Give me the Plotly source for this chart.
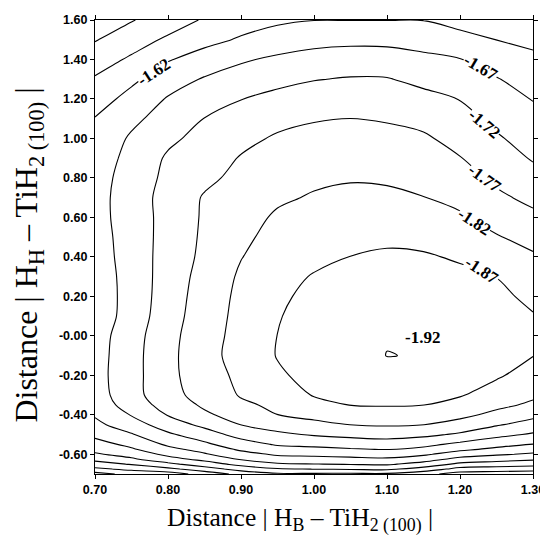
import plotly.graph_objects as go

# Grid
x_dist = [0.70, 0.75, 0.80, 0.85, 0.90, 0.95, 1.00, 1.05, 1.10, 1.15, 1.20, 1.25, 1.30]
y_dist = [-0.70, -0.675, -0.65, -0.625, -0.60, -0.575, -0.55, -0.50, -0.45, -0.40, -0.35,
          -0.30, -0.20, -0.10, 0.00, 0.10, 0.20, 0.30, 0.40, 0.50, 0.60, 0.70, 0.80, 0.90,
          1.00, 1.10, 1.20, 1.30, 1.40, 1.50, 1.60]

z_energy = [
    [-1.350, -1.387, -1.395, -1.440, -1.485, -1.5125, -1.512, -1.511, -1.511, -1.486, -1.449, -1.4425, -1.436],
    [-1.410, -1.431, -1.4575, -1.496, -1.540, -1.564, -1.571, -1.575, -1.580, -1.550, -1.502, -1.497, -1.492],
    [-1.449, -1.474, -1.508, -1.546, -1.585, -1.6135, -1.619, -1.623, -1.627, -1.6015, -1.559, -1.546, -1.5375],
    [-1.483, -1.512, -1.551, -1.584, -1.624, -1.648, -1.652, -1.6575, -1.662, -1.6427, -1.604, -1.590, -1.5779],
    [-1.514, -1.539, -1.5825, -1.6145, -1.652, -1.677, -1.682, -1.688, -1.693, -1.678, -1.645, -1.6267, -1.6129],
    [-1.534, -1.564, -1.607, -1.638, -1.678, -1.702, -1.708, -1.716, -1.722, -1.707, -1.6806, -1.6593, -1.6417],
    [-1.551, -1.582, -1.628, -1.660, -1.699, -1.725, -1.732, -1.740, -1.746, -1.734, -1.7078, -1.6865, -1.669],
    [-1.582, -1.616, -1.662, -1.698, -1.7375, -1.7606, -1.775, -1.784, -1.7895, -1.7815, -1.7628, -1.734, -1.714],
    [-1.608, -1.647, -1.695, -1.732, -1.771, -1.7907, -1.8074, -1.8205, -1.8247, -1.8205, -1.8027, -1.775, -1.7504],
    [-1.625, -1.673, -1.723, -1.762, -1.791, -1.8197, -1.834, -1.8457, -1.8503, -1.845, -1.8323, -1.808, -1.783],
    [-1.640, -1.693, -1.740, -1.778, -1.811, -1.830, -1.857, -1.871, -1.873, -1.8705, -1.8548, -1.8312, -1.812],
    [-1.648, -1.701, -1.755, -1.787, -1.824, -1.845, -1.8727, -1.880, -1.886, -1.883, -1.8735, -1.8487, -1.828],
    [-1.652, -1.702, -1.757, -1.798, -1.831, -1.864, -1.883, -1.895, -1.908, -1.9036, -1.892, -1.876, -1.8506],
    [-1.650, -1.702, -1.757, -1.802, -1.8396, -1.872, -1.889, -1.9047, -1.9206, -1.9185, -1.904, -1.888, -1.871],
    [-1.648, -1.699, -1.755, -1.799, -1.837, -1.8705, -1.891, -1.9088, -1.9179, -1.9149, -1.906, -1.893, -1.876],
    [-1.640, -1.691, -1.749, -1.7956, -1.834, -1.867, -1.889, -1.9076, -1.9112, -1.9085, -1.900, -1.8885, -1.8727],
    [-1.640, -1.689, -1.745, -1.7926, -1.831, -1.861, -1.8828, -1.901, -1.9018, -1.8994, -1.8912, -1.8804, -1.8598],
    [-1.641, -1.690, -1.742, -1.788, -1.8266, -1.857, -1.8726, -1.889, -1.8903, -1.888, -1.8798, -1.8694, -1.8428],
    [-1.645, -1.692, -1.740, -1.781, -1.8185, -1.843, -1.8605, -1.8705, -1.8767, -1.8746, -1.865, -1.8465, -1.8259],
    [-1.648, -1.693, -1.738, -1.778, -1.809, -1.837, -1.8485, -1.8575, -1.8613, -1.8574, -1.8455, -1.8235, -1.8043],
    [-1.652, -1.694, -1.737, -1.776, -1.800, -1.827, -1.8365, -1.844, -1.8454, -1.8392, -1.826, -1.8014, -1.7806],
    [-1.652, -1.695, -1.738, -1.774, -1.791, -1.8123, -1.8246, -1.8305, -1.8296, -1.821, -1.8078, -1.7796, -1.758],
    [-1.648, -1.693, -1.731, -1.760, -1.782, -1.800, -1.811, -1.8165, -1.8138, -1.806, -1.7898, -1.7602, -1.7363],
    [-1.640, -1.687, -1.726, -1.747, -1.773, -1.788, -1.797, -1.801, -1.7984, -1.7913, -1.7719, -1.7429, -1.716],
    [-1.632, -1.677, -1.711, -1.734, -1.758, -1.7756, -1.7826, -1.786, -1.783, -1.7765, -1.7543, -1.7256, -1.7002],
    [-1.622, -1.658, -1.6926, -1.721, -1.738, -1.757, -1.767, -1.7702, -1.7664, -1.7568, -1.7367, -1.7081, -1.6843],
    [-1.598, -1.636, -1.674, -1.698, -1.719, -1.733, -1.743, -1.747, -1.7444, -1.7332, -1.7187, -1.6904, -1.668],
    [-1.575, -1.610, -1.647, -1.6745, -1.692, -1.707, -1.718, -1.7236, -1.7226, -1.708, -1.6952, -1.6729, -1.6486],
    [-1.547, -1.5775, -1.6165, -1.640, -1.664, -1.679, -1.688, -1.693, -1.692, -1.681, -1.6718, -1.647, -1.6293],
    [-1.517, -1.5475, -1.578, -1.606, -1.625, -1.642, -1.655, -1.6586, -1.6576, -1.651, -1.6373, -1.6196, -1.6099],
    [-1.490, -1.517, -1.545, -1.575, -1.600, -1.612, -1.619, -1.619, -1.619, -1.619, -1.602, -1.592, -1.5906],
]

x_tick_vals = [0.70, 0.80, 0.90, 1.00, 1.10, 1.20, 1.30]
x_tick_text = ["0.70", "0.80", "0.90", "1.00", "1.10", "1.20", "1.30"]
y_tick_vals = [-0.60, -0.40, -0.20, 0.00, 0.20, 0.40, 0.60, 0.80, 1.00, 1.20, 1.40, 1.60]
y_tick_text = ["-0.60", "-0.40", "-0.20", "-0.00", "0.20", "0.40", "0.60", "0.80",
               "1.00", "1.20", "1.40", "1.60"]

label_text = ["-1.62", "-1.67", "-1.72", "-1.77", "-1.82", "-1.87", "-1.92"]
label_x = [0.7795, 1.2288, 1.2329, 1.2342, 1.2192, 1.2301, 1.148]
label_y = [1.3364, 1.3618, 1.078, 0.7992, 0.5813, 0.3329, -0.0067]
label_angle = [-33, 30, 40, 36, 33, 33, 0]

fig = go.Figure()
fig.add_trace(go.Contour(
    x=x_dist, y=y_dist, z=z_energy,
    contours=dict(coloring="none", start=-1.92, end=-1.32, size=0.05, showlabels=False),
    line=dict(color="black", width=1.1, smoothing=1.0),
    showscale=False, hoverinfo="skip",
))

tick_font = dict(family="Liberation Sans Narrow, Liberation Sans, Arial", size=12.5,
                 color="black", weight="bold")
axis_common = dict(showline=True, linecolor="black", linewidth=1.2, mirror="ticks",
                   ticks="outside", ticklen=4, tickwidth=1, tickcolor="black",
                   showgrid=False, zeroline=False, tickfont=tick_font,
                   ticklabeloverflow="allow", automargin=False)

fig.update_xaxes(range=[0.70, 1.30], tickmode="array", tickvals=x_tick_vals,
                 ticktext=x_tick_text, **axis_common)
fig.update_yaxes(range=[-0.70, 1.60], tickmode="array", tickvals=y_tick_vals,
                 ticktext=y_tick_text, **axis_common)

for t, lx, ly, ang in zip(label_text, label_x, label_y, label_angle):
    fig.add_annotation(x=lx, y=ly, xref="x", yref="y", text=t, showarrow=False,
                       textangle=ang, bgcolor="white" if ang != 0 else "rgba(0,0,0,0)",
                       borderpad=0,
                       font=dict(family="Liberation Serif, Times New Roman, serif",
                                 size=17, color="black", weight="bold"))

title_font = dict(family="Liberation Serif, Times New Roman, serif", color="black")
fig.add_annotation(x=0.468, y=-0.101, xref="paper", yref="paper", showarrow=False,
                   text="Distance | H<sub>B</sub> \u2013 TiH<sub>2 (100)</sub> |",
                   xanchor="center", yanchor="middle", font=dict(size=25.5, **title_font))
fig.add_annotation(x=-0.152, y=0.482, xref="paper", yref="paper", showarrow=False,
                   text="Distance | H<sub>H</sub> \u2013 TiH<sub>2 (100)</sub> |",
                   textangle=-90, xanchor="center", yanchor="middle",
                   font=dict(size=32, **title_font))

fig.update_layout(width=540, height=548, margin=dict(l=95, r=7, t=20, b=74),
                  paper_bgcolor="white", plot_bgcolor="white", showlegend=False,
                  autosize=False)

fig.write_html("out.html",
               config={"displayModeBar": False, "responsive": False},
               post_script="document.body.style.margin='0';document.body.style.overflow='hidden';")
